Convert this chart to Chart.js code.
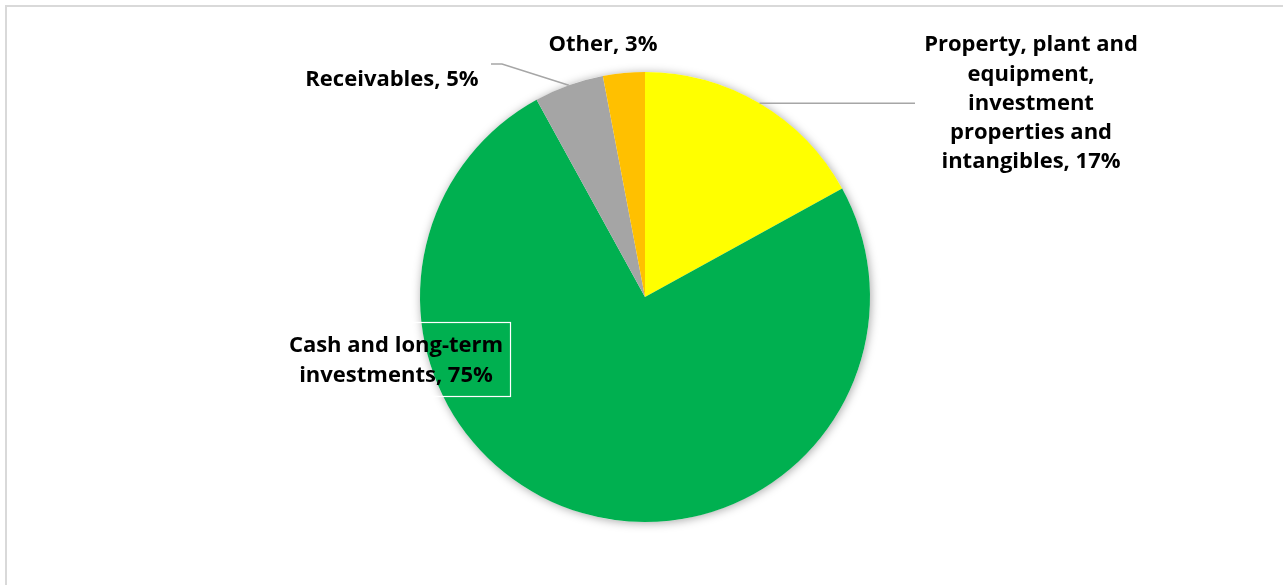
<!DOCTYPE html>
<html>
<head>
<meta charset="utf-8">
<script src="https://cdn.jsdelivr.net/npm/chart.js@4/dist/chart.umd.min.js"></script>
<style>
  html, body { margin: 0; padding: 0; background: #fff; overflow: hidden; }
  #wrap { position: relative; width: 1283px; height: 585px; }
  #frame { position: absolute; left: 5px; top: 5px; width: 1300px; height: 600px; border: 2px solid #d9d9d9; box-sizing: border-box; }
  canvas { position: absolute; left: 0; top: 0; }
</style>
</head>
<body>
<div id="wrap">
  <div id="frame"></div>
  <canvas id="pieChart" width="1283" height="585"></canvas>
</div>
<script>
// Asset breakdown (%), clockwise from 12 o'clock
const categories = [
  "Property, plant and equipment, investment properties and intangibles",
  "Cash and long-term investments",
  "Receivables",
  "Other"
];
const shares = [17, 75, 5, 3];
const sliceColors = ["#FFFF00", "#00B050", "#A5A5A5", "#FFC000"];

// label text lines and where they sit (text only, the slices come from the data)
const labelLines = [
  ["Property, plant and", "equipment,", "investment", "properties and", "intangibles, 17%"],
  ["Cash and long-term", "investments, 75%"],
  ["Receivables, 5%"],
  ["Other, 3%"]
];
const labelPos = [
  { x: 1031, y: 45 },
  { x: 396, y: 346 },
  { x: 392, y: 80 },
  { x: 603, y: 45 }
];

const FONT = "bold 22px 'Open Sans', sans-serif";
const LINE_H = 29.3;

const shadowPlugin = {
  id: "pieShadow",
  beforeDatasetsDraw(chart) {
    const arc = chart.getDatasetMeta(0).data[0];
    const ctx = chart.ctx;
    ctx.save();
    ctx.shadowColor = "rgba(0,0,0,0.35)";
    ctx.shadowBlur = 10;
    ctx.shadowOffsetX = 1;
    ctx.shadowOffsetY = 1;
    ctx.fillStyle = "#fff";
    ctx.beginPath();
    ctx.arc(arc.x, arc.y, arc.outerRadius, 0, Math.PI * 2);
    ctx.fill();
    ctx.restore();
  }
};

const labelPlugin = {
  id: "sliceLabels",
  afterDatasetsDraw(chart) {
    const ctx = chart.ctx;
    const arcs = chart.getDatasetMeta(0).data;
    ctx.save();

    // leader lines
    ctx.strokeStyle = "#a6a6a6";
    ctx.lineWidth = 1.5;
    const edge = (a) => {
      const mid = (a.startAngle + a.endAngle) / 2;
      return { x: a.x + Math.cos(mid) * a.outerRadius, y: a.y + Math.sin(mid) * a.outerRadius };
    };
    let p = edge(arcs[0]);
    ctx.beginPath();
    ctx.moveTo(p.x, p.y);
    ctx.lineTo(915, p.y);
    ctx.stroke();

    p = edge(arcs[2]);
    ctx.beginPath();
    ctx.moveTo(p.x, p.y);
    ctx.lineTo(502, 64);
    ctx.lineTo(491, 64);
    ctx.stroke();

    // box round the cash label
    ctx.strokeStyle = "#ffffff";
    ctx.lineWidth = 1.2;
    ctx.strokeRect(283.5, 322.5, 227, 74);

    // texts
    ctx.fillStyle = "#000";
    ctx.font = FONT;
    ctx.textAlign = "center";
    ctx.textBaseline = "middle";
    labelLines.forEach((lines, i) => {
      lines.forEach((t, j) => {
        ctx.fillText(t, labelPos[i].x, labelPos[i].y + j * LINE_H);
      });
    });
    ctx.restore();
  }
};

new Chart(document.getElementById("pieChart"), {
  type: "pie",
  data: {
    labels: categories,
    datasets: [{
      data: shares,
      backgroundColor: sliceColors,
      borderWidth: 0
    }]
  },
  options: {
    responsive: false,
    animation: false,
    layout: { padding: { left: 420, right: 413, top: 72, bottom: 63 } },
    plugins: {
      legend: { display: false },
      tooltip: { enabled: false }
    }
  },
  plugins: [shadowPlugin, labelPlugin]
});
</script>
</body>
</html>
